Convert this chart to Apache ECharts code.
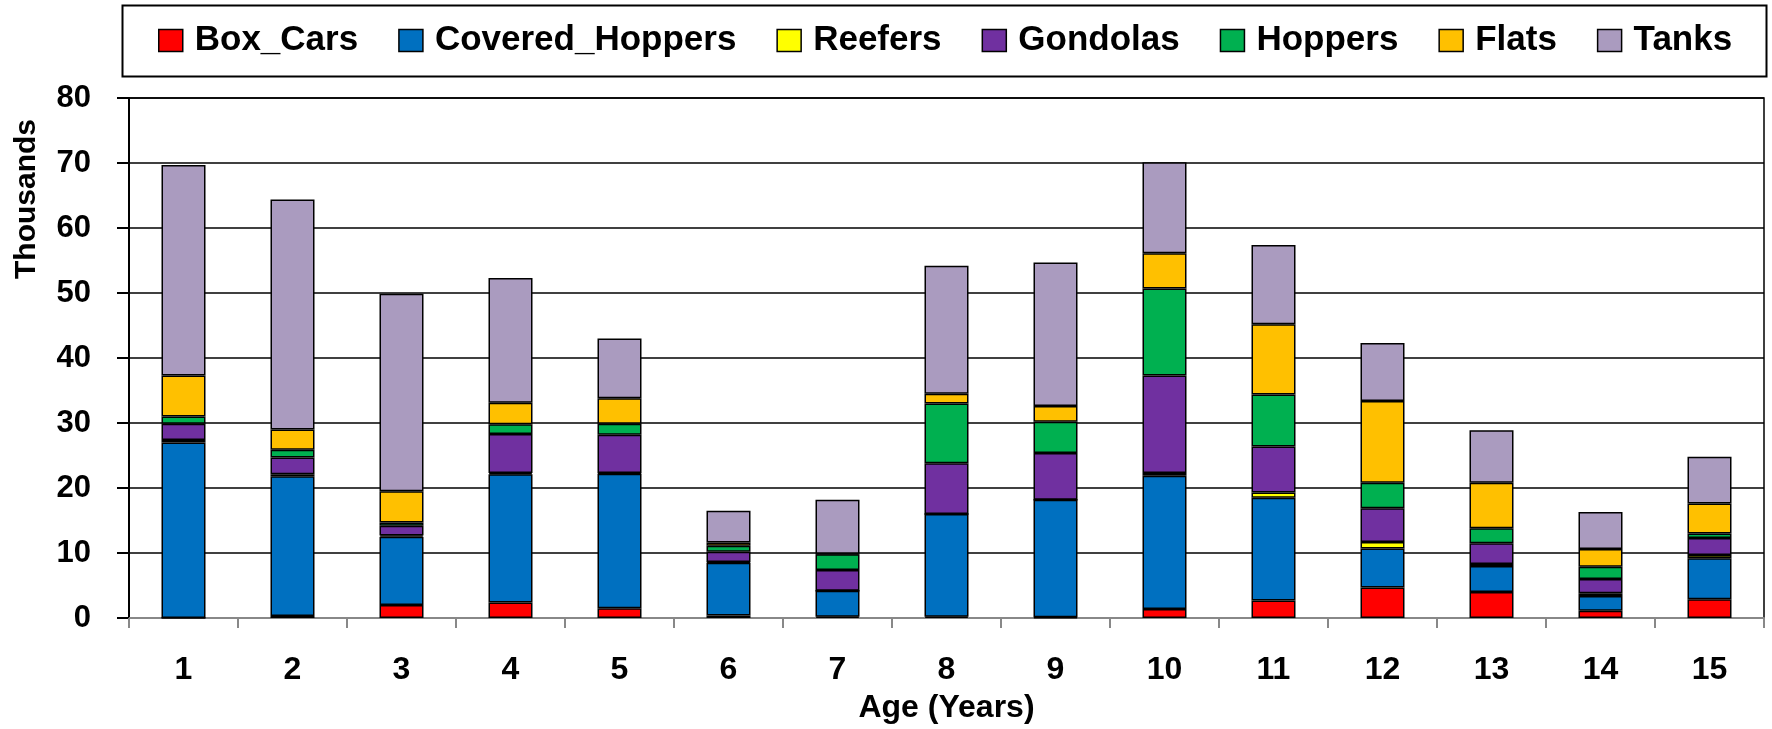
<!DOCTYPE html>
<html>
<head>
<meta charset="utf-8">
<script src="https://cdn.jsdelivr.net/npm/echarts@6/dist/echarts.min.js"></script>
<style>
html,body{margin:0;padding:0;background:#fff;}
#chart{width:1772px;height:729px;}
</style>
</head>
<body>
<div id="chart"></div>
<script>
const categories = ['1','2','3','4','5','6','7','8','9','10','11','12','13','14','15'];
const yTicks = [0,10,20,30,40,50,60,70,80];
const boxCars        = [0.0, 0.3, 2.0, 2.4, 1.5, 0.4, 0.2, 0.2, 0.1, 1.4, 2.7, 4.7, 4.0, 1.1, 2.9];
const coveredHoppers = [27.0, 21.5, 10.5, 19.7, 20.7, 8.1, 4.0, 15.8, 18.1, 20.5, 15.8, 6.0, 4.0, 2.3, 6.3];
const reefers        = [0.4, 0.3, 0.2, 0.2, 0.1, 0.1, 0.0, 0.0, 0.0, 0.4, 0.8, 1.0, 0.3, 0.4, 0.5];
const gondolas       = [2.5, 2.6, 1.5, 6.0, 5.9, 1.6, 3.2, 7.8, 7.2, 15.0, 7.1, 5.2, 3.2, 2.2, 2.6];
const hoppers        = [1.1, 1.2, 0.5, 1.5, 1.7, 0.9, 2.4, 9.2, 4.8, 13.4, 8.0, 3.9, 2.3, 1.9, 0.7];
const flats          = [6.3, 3.1, 4.8, 3.3, 3.9, 0.5, 0.1, 1.5, 2.4, 5.4, 10.8, 12.6, 7.0, 2.7, 4.6];
const tanks          = [32.4, 35.4, 30.4, 19.2, 9.2, 4.9, 8.3, 19.7, 22.1, 14.0, 12.2, 8.9, 8.1, 5.7, 7.2];

const seriesNames = ['Box_Cars','Covered_Hoppers','Reefers','Gondolas','Hoppers','Flats','Tanks'];
const seriesData = [boxCars, coveredHoppers, reefers, gondolas, hoppers, flats, tanks];
const colors = ['#FF0000','#0070C0','#FFFF00','#7030A0','#00B050','#FFC000','#AA9BBF'];

const FONT = "'Liberation Sans', Arial, sans-serif";

const chart = echarts.init(document.getElementById('chart'));
chart.setOption({
  animation: false,
  backgroundColor: '#fff',
  color: colors,
  graphic: [
    { type: 'rect', left: 120, top: 3, shape: { width: 1644, height: 71 },
      style: { fill: 'none', stroke: '#000', lineWidth: 2 }, z: 10 },
    { type: 'text', left: 12, top: 119, rotation: Math.PI / 2, z: 10,
      style: { text: 'Thousands', font: "bold 30px 'Liberation Sans', Arial, sans-serif", fill: '#000' } }
  ],
  legend: {
    left: 153, top: 18,
    itemWidth: 24, itemHeight: 22, itemGap: 40,
    icon: 'rect',
    itemStyle: { borderColor: '#000', borderWidth: 1.5 },
    textStyle: { fontFamily: FONT, fontWeight: 'bold', fontSize: 35, color: '#000', padding: [0,0,0,7] },
    data: seriesNames
  },
  grid: { left: 129, right: 8, top: 98, bottom: 107, show: true, borderColor: '#000', borderWidth: 1.5 },
  xAxis: {
    type: 'category', data: categories,
    name: 'Age (Years)', nameLocation: 'middle', nameGap: 74,
    nameTextStyle: { fontFamily: FONT, fontWeight: 'bold', fontSize: 32, color: '#000' },
    axisLine: { lineStyle: { color: '#888', width: 2 } },
    axisTick: { show: true, length: 10, lineStyle: { color: '#888', width: 2 } },
    axisLabel: { fontFamily: FONT, fontWeight: 'bold', fontSize: 32, color: '#000', margin: 36 }
  },
  yAxis: {
    type: 'value', min: yTicks[0], max: yTicks[yTicks.length-1], interval: 10,
    axisLine: { show: true, lineStyle: { color: '#000', width: 2 } },
    axisTick: { show: true, length: 12, lineStyle: { color: '#000', width: 2 } },
    splitLine: { lineStyle: { color: '#000', width: 1.5 } },
    axisLabel: { fontFamily: FONT, fontWeight: 'bold', fontSize: 31, color: '#000', margin: 38 }
  },
  series: seriesNames.map((n, i) => ({
    name: n, type: 'bar', stack: 'total', data: seriesData[i], barWidth: 44,
    itemStyle: { color: colors[i], borderColor: '#000', borderWidth: 1.5 }
  }))
});
</script>
</body>
</html>
